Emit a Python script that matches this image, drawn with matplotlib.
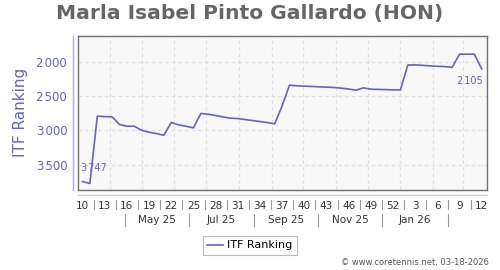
import datetime as dt

import matplotlib
matplotlib.use("Agg")
import matplotlib.pyplot as plt
import matplotlib.dates as mdates
from matplotlib.lines import Line2D

# weekly ITF ranking, first point in week 10 of 2025
start = dt.date(2025, 3, 6)
ranking = [3747, 3775, 2794, 2800, 2803, 2915, 2940, 2940, 2999, 3028,
           3047, 3072, 2886, 2920, 2940, 2964, 2755, 2765, 2784, 2804,
           2823, 2828, 2843, 2857, 2872, 2886, 2906, 2643, 2341, 2351,
           2356, 2360, 2366, 2370, 2375, 2385, 2398, 2415, 2380, 2400,
           2403, 2406, 2410, 2412, 2048, 2046, 2052, 2060, 2066, 2070,
           2082, 1890, 1890, 1890, 2105]
week_labels = ["10", "13", "16", "19", "22", "25", "28", "31", "34", "37",
               "40", "43", "46", "49", "52", "3", "6", "9", "12"]
month_labels = ["May 25", "Jul 25", "Sep 25", "Nov 25", "Jan 26"]
month_label_dates = [dt.date(2025, 5, 15), dt.date(2025, 7, 15), dt.date(2025, 9, 15),
                     dt.date(2025, 11, 15), dt.date(2026, 1, 15)]
month_sep_dates = [dt.date(2025, 4, 15), dt.date(2025, 6, 15), dt.date(2025, 8, 15),
                   dt.date(2025, 10, 15), dt.date(2025, 12, 15), dt.date(2026, 2, 15)]
yticks = [2000, 2500, 3000, 3500]

LINE = "#6262cc"


def fmt(v):
    return f"{v:,}".replace(",", "\u200a")


dates = [start + dt.timedelta(weeks=i) for i in range(len(ranking))]
x = mdates.date2num(dates)
week_x = x[::3]

fig = plt.figure(figsize=(5, 2.7), dpi=100)
ax = fig.add_axes([0.1566, 0.2963, 0.8174, 0.5715])
ax.set_facecolor("#f8f8f8")
for s in ax.spines.values():
    s.set_color("#707070")
    s.set_linewidth(1.0)

ax.plot(x, ranking, color=LINE, lw=1.2, zorder=3)

ax.set_ylim(3870, 1620)
ax.set_xlim(mdates.date2num(dt.date(2025, 3, 2)), mdates.date2num(dt.date(2026, 3, 24)))

# grid: month starts + y ticks
month_starts = [dt.date(2025 + (m - 1) // 12, (m - 1) % 12 + 1, 1) for m in range(4, 16)]
for d in month_starts:
    ax.axvline(mdates.date2num(d), color="#dddddd", lw=0.8, ls=(0, (3, 3)), zorder=1)
for v in yticks:
    ax.axhline(v, color="#dddddd", lw=0.8, ls=(0, (3, 3)), zorder=1)

ax.set_yticks(yticks)
ax.set_yticklabels([fmt(v) for v in yticks], color=LINE, fontsize=8.5)
ax.tick_params(axis="y", length=0, pad=8)

ax.set_xticks(week_x)
ax.set_xticklabels(week_labels, color="#333333", fontsize=7.5)
ax.tick_params(axis="x", length=0, pad=8)

xt = ax.get_xaxis_transform()
# offset axis lines
ax.add_line(Line2D([-0.0122, -0.0122], [0, 1], transform=ax.transAxes,
                   color="#aaaadd", lw=1.0, clip_on=False))
ax.add_line(Line2D([0, 1], [-0.03, -0.03], transform=ax.transAxes,
                   color="#cccccc", lw=1.0, clip_on=False))
# separators between week labels
for xs in (week_x[:-1] + 10.5):
    ax.add_line(Line2D([xs, xs], [-0.065, -0.125], transform=xt,
                       color="#999999", lw=0.8, clip_on=False))
for d in month_sep_dates:
    xs = mdates.date2num(d)
    ax.add_line(Line2D([xs, xs], [-0.155, -0.233], transform=xt,
                       color="#999999", lw=0.8, clip_on=False))
for d, lab in zip(month_label_dates, month_labels):
    ax.text(mdates.date2num(d), -0.196, lab, transform=xt, ha="center", va="center",
            fontsize=7.5, color="#333333")

# first / last value labels
ax.annotate(fmt(ranking[0]), (x[0], ranking[0]), xytext=(-1, 6), textcoords="offset points",
            ha="left", va="bottom", fontsize=7, color=LINE)
ax.annotate(fmt(ranking[-1]), (x[-1], ranking[-1]), xytext=(1, -5), textcoords="offset points",
            ha="right", va="top", fontsize=7, color=LINE)

fig.text(0.5, 1 - 13.5 / 270, "Marla Isabel Pinto Gallardo (HON)", ha="center", va="center",
         fontsize=14.6, fontweight="bold", color="#666666")
fig.text(20.7 / 500, 0.582, "ITF Ranking", rotation=90, ha="center", va="center",
         fontsize=11, color=LINE)

handle = Line2D([0], [0], color=LINE, lw=1.2)
leg = fig.legend([handle], ["ITF Ranking"], loc="center", bbox_to_anchor=(0.5, 1 - 245.5 / 270),
                 fontsize=8, frameon=True, fancybox=False, handlelength=1.4,
                 handletextpad=0.4, borderpad=0.4)
leg.get_frame().set_edgecolor("#aaaaaa")
leg.get_frame().set_linewidth(0.8)

fig.text(489 / 500, 1 - 262 / 270, "\u00a9 www.coretennis.net, 03-18-2026", ha="right",
         va="center", fontsize=6, color="#555555")

fig.savefig("out.png", dpi=100)
